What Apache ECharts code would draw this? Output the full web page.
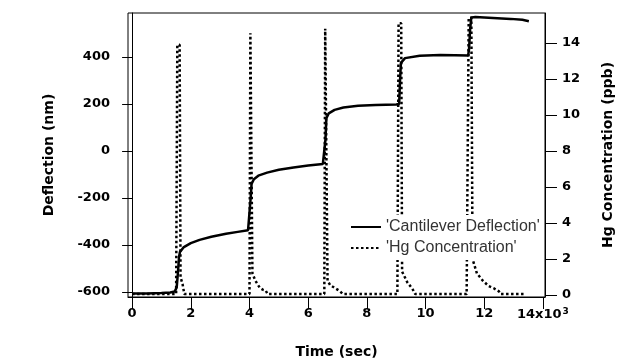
<!DOCTYPE html>
<html>
<head>
<meta charset="utf-8">
<script src="https://cdn.jsdelivr.net/npm/echarts@6/dist/echarts.min.js"></script>
<style>
  html, body { margin: 0; padding: 0; background: #fff; }
  #chart { width: 618px; height: 362px; }
</style>
</head>
<body>
<div id="chart"></div>
<script>
// time in seconds, deflection in nm
const deflTime = [0, 500, 1000, 1300, 1450, 1520, 1560, 1600, 1630, 1750, 2000, 2300, 2700, 3200, 3600, 3950,
  4010, 4040, 4070, 4150, 4300, 4600, 5000, 5500, 6000, 6500,
  6560, 6590, 6620, 6700, 6900, 7200, 7700, 8300, 9000, 9100,
  9130, 9160, 9300, 9800, 10500, 11000, 11450,
  11480, 11520, 11560, 11700, 12300, 12900, 13300, 13520];
const deflValue = [-606, -606, -604, -602, -598, -580, -520, -450, -430, -410, -392, -378, -365, -352, -344, -337,
  -330, -200, -140, -120, -105, -92, -80, -70, -62, -55,
  -50, 50, 140, 160, 175, 185, 192, 196, 198, 200,
  300, 375, 395, 405, 408, 407, 406,
  430, 520, 568, 570, 566, 562, 558, 552];

// Hg concentration in ppb
const hgTime = [0, 1500, 1540, 1620, 1650, 1720, 1780,
  4000, 4030, 4070, 4100, 4200, 4350, 4450, 4550, 4620,
  6550, 6580, 6620, 6660, 6750, 6900, 7050, 7190,
  9040, 9080, 9170, 9200, 9380, 9550, 9650,
  11400, 11470, 11560, 11600, 11750, 11950, 12150, 12350, 12500, 12560, 13400];
const hgValue = [0.05, 0.05, 13.9, 13.9, 1.0, 0.6, 0.05,
  0.05, 14.55, 14.55, 1.2, 0.8, 0.4, 0.3, 0.25, 0.05,
  0.05, 14.8, 14.8, 0.8, 0.55, 0.4, 0.25, 0.05,
  0.05, 15.1, 15.1, 1.3, 0.7, 0.35, 0.05,
  0.05, 15.4, 15.4, 2.0, 1.2, 0.8, 0.5, 0.35, 0.2, 0.05, 0.05];

const timeTicks = [0, 2000, 4000, 6000, 8000, 10000, 12000, 14000];
const deflTicks = [-600, -400, -200, 0, 200, 400];
const hgTicks = [0, 2, 4, 6, 8, 10, 12, 14];

const seriesNames = ["'Cantilever Deflection'", "'Hg Concentration'"];

const chart = echarts.init(document.getElementById('chart'));

const tickFont = { fontFamily: 'DejaVu Sans', fontWeight: 'bold', fontSize: 13, color: '#000' };
const nameFont = { fontFamily: 'DejaVu Sans', fontWeight: 'bold', fontSize: 14, color: '#000' };

const options = {
  animation: false,
  backgroundColor: '#fff',
  grid: {
    left: 128, right: 73, top: 13, bottom: 65,
    outerBoundsMode: 'none', // keep the plot box where it is
    show: true, borderColor: '#000', borderWidth: 1
  },
  legend: {
    orient: 'vertical',
    left: 346, top: 215,
    itemWidth: 30, itemHeight: 14, itemGap: 5,
    padding: [4, 2, 4, 4],
    backgroundColor: '#fff',
    z: 10,
    data: seriesNames,
    itemStyle: { opacity: 0 }, // hide the symbol, keep the line sample
    textStyle: { fontFamily: 'Liberation Sans', fontSize: 16, color: '#333' }
  },
  xAxis: {
    type: 'value',
    min: -140, max: 14070,
    name: 'Time (sec)',
    nameLocation: 'middle',
    nameGap: 48,
    nameTextStyle: nameFont,
    axisLine: { show: true, onZero: false, lineStyle: { color: '#000', width: 1 } },
    axisTick: { show: true, length: 12, customValues: timeTicks, lineStyle: { color: '#000' } },
    axisLabel: {
      ...tickFont,
      margin: 10,
      customValues: timeTicks,
      formatter: (v) => v === 14000 ? '14x10{s|3}' : String(v / 1000),
      rich: { s: { fontFamily: 'DejaVu Sans', fontSize: 9, verticalAlign: 'top', padding: [0, 0, 6, 1], color: '#000' } }
    },
    splitLine: { show: false }
  },
  yAxis: [
    {
      type: 'value',
      position: 'left',
      min: -621, max: 587,
      name: 'Deflection (nm)',
      nameLocation: 'middle',
      nameRotate: 90,
      nameGap: 72,
      nameTextStyle: nameFont,
      axisLine: { show: true, lineStyle: { color: '#000', width: 1 } },
      axisTick: { show: true, length: 10, customValues: deflTicks, lineStyle: { color: '#000' } },
      axisLabel: { ...tickFont, margin: 18, customValues: deflTicks },
      splitLine: { show: false }
    },
    {
      type: 'value',
      position: 'right',
      min: -0.11, max: 15.67,
      name: 'Hg Concentration (ppb)',
      nameLocation: 'middle',
      nameRotate: 90,
      nameGap: 56,
      nameTextStyle: nameFont,
      axisLine: { show: true, lineStyle: { color: '#000', width: 1 } },
      axisTick: { show: true, length: 12, customValues: hgTicks, lineStyle: { color: '#000' } },
      axisLabel: { ...tickFont, margin: 17, customValues: hgTicks },
      splitLine: { show: false }
    }
  ],
  series: [
    {
      name: seriesNames[0],
      type: 'line',
      yAxisIndex: 0,
      symbol: 'none',
      lineStyle: { color: '#000', width: 2.5, type: 'solid' },
      itemStyle: { color: '#000' },
      data: deflTime.map((t, i) => [t, deflValue[i]]),
      z: 3
    },
    {
      name: seriesNames[1],
      type: 'line',
      yAxisIndex: 1,
      symbol: 'none',
      lineStyle: { color: '#000', width: 2.5, type: [2.5, 2.5] },
      itemStyle: { color: '#000' },
      data: hgTime.map((t, i) => [t, hgValue[i]]),
      z: 2
    }
  ]
};

chart.setOption(options);
</script>
</body>
</html>
